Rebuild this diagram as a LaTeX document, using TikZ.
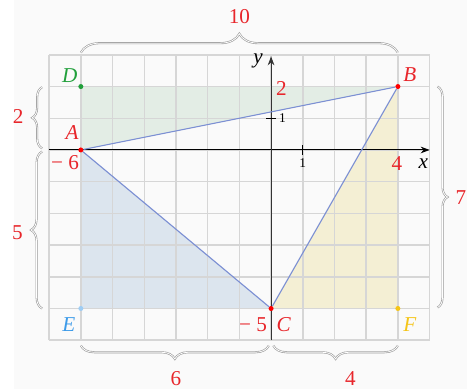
\documentclass[tikz,border=0pt]{standalone}
\usepackage{fontspec}
\setmainfont{Liberation Serif}
\usetikzlibrary{arrows.meta,decorations.pathreplacing}
\definecolor{gridc}{HTML}{D6D6D6}
\definecolor{lblred}{HTML}{E8262B}
\definecolor{lblgreen}{HTML}{22A03C}
\definecolor{lblblue}{HTML}{3D9BE9}
\definecolor{lblyellow}{HTML}{F5C518}
\definecolor{fgreen}{HTML}{E3EDE5}
\definecolor{fblue}{HTML}{DCE5EE}
\definecolor{fyellow}{HTML}{F4EFD4}
\definecolor{segc}{HTML}{7B8FD3}
\definecolor{bracec}{HTML}{9A9A9A}
\tikzset{
  dot/.style={circle,inner sep=0pt,minimum size=4.5pt},
  lbl/.style={font=\fontsize{19}{21}\selectfont\itshape},
  num/.style={font=\fontsize{19}{21}\selectfont, text=lblred},
  tick/.style={font=\fontsize{12}{14}\selectfont},
  seg/.style={draw=segc,line width=1pt},
  bracestyle/.style={draw=bracec,line width=0.55pt,double=white,double distance=0.7pt,decorate},
}
\begin{document}
\begin{tikzpicture}
\useasboundingbox (-8.55,-7.54) rectangle (6.18,4.73);
\fill[black!2] (-8.1,-7.54) rectangle (6.18,4.73);
% fills
\fill[fgreen] (-6,2) -- (4,2) -- (-6,0) -- cycle;
\fill[fblue] (-6,0) -- (-6,-5) -- (0,-5) -- cycle;
\fill[fyellow] (4,2) -- (4,-5) -- (0,-5) -- cycle;
% grid
\draw[gridc,line width=1.3pt] (-7,-6) grid (5,3);
% axes
\draw[black,line width=0.9pt,-{Stealth[length=8pt,width=6pt]}] (-7,0) -- (5,0);
\draw[black!80,line width=0.9pt,-{Stealth[length=8pt,width=6pt]}] (0,-6) -- (0,2.95);
\draw[line width=0.9pt] (1,0.15) -- (1,-0.15);
\draw[line width=0.9pt] (-0.15,1) -- (0.15,1);
\node[tick] (t1x) at (1,-0.42) {1};
\node[tick] (t1y) at (0.36,1.02) {1};
\node[lbl] (xl) at (4.8,-0.42) {x};
\node[lbl] (yl) at (-0.41,2.8) {y};
% points
\node[dot,fill=red] (A) at (-6,0) {};
\node[dot,fill=red] (B) at (4,2) {};
\node[dot,fill=red] (C) at (0,-5) {};
\node[dot,fill=lblgreen] (D) at (-6,2) {};
\node[dot,fill=lblblue!50] (E) at (-6,-5) {};
\node[dot,fill=lblyellow] (F) at (4,-5) {};
% triangle
\draw[seg] (A) -- (B) -- (C) -- (A);
% labels
\node[lbl,text=lblred] (Al) at (-6.28,0.55) {A};
\node[lbl,text=lblred] (Bl) at (4.38,2.38) {B};
\node[lbl,text=lblred] (Cl) at (0.4,-5.52) {C};
\node[lbl,text=lblgreen] (Dl) at (-6.35,2.35) {D};
\node[lbl,text=lblblue] (El) at (-6.38,-5.52) {E};
\node[lbl,text=lblyellow] (Fl) at (4.38,-5.52) {F};
\node[num] (m6) at (-6.5,-0.4) {− 6};
\node[num] (n2) at (0.33,1.95) {2};
\node[num] (n4) at (3.97,-0.42) {4};
\node[num] (m5) at (-0.57,-5.52) {− 5};
% braces
\coordinate (tb1) at (-6,3.07);
\coordinate (tb2) at (4,3.07);
\draw[bracestyle,decoration={brace,amplitude=17pt}] (tb1) -- (tb2);
\node[num] (n10) at (-1,4.2) {10};
\coordinate (lb1) at (-7.22,0.05);
\coordinate (lb2) at (-7.22,1.98);
\draw[bracestyle,decoration={brace,amplitude=9pt}] (lb1) -- (lb2);
\node[num] (n2b) at (-7.98,1.05) {2};
\coordinate (lc1) at (-7.22,-5);
\coordinate (lc2) at (-7.22,-0.05);
\draw[bracestyle,decoration={brace,amplitude=10pt}] (lc1) -- (lc2);
\node[num] (n5) at (-8.0,-2.6) {5};
\coordinate (rb1) at (5.25,2);
\coordinate (rb2) at (5.25,-4.97);
\draw[bracestyle,decoration={brace,amplitude=9pt}] (rb1) -- (rb2);
\node[num,anchor=east,inner xsep=0.5pt] (n7) at (6.18,-1.5) {7};
\coordinate (bb1) at (-0.07,-6.17);
\coordinate (bb2) at (-6,-6.17);
\draw[bracestyle,decoration={brace,amplitude=12pt}] (bb1) -- (bb2);
\node[num] (n6) at (-3,-7.2) {6};
\coordinate (bc1) at (4,-6.17);
\coordinate (bc2) at (0.07,-6.17);
\draw[bracestyle,decoration={brace,amplitude=12pt}] (bc1) -- (bc2);
\node[num] (n4b) at (2.5,-7.2) {4};
\end{tikzpicture}
\end{document}
